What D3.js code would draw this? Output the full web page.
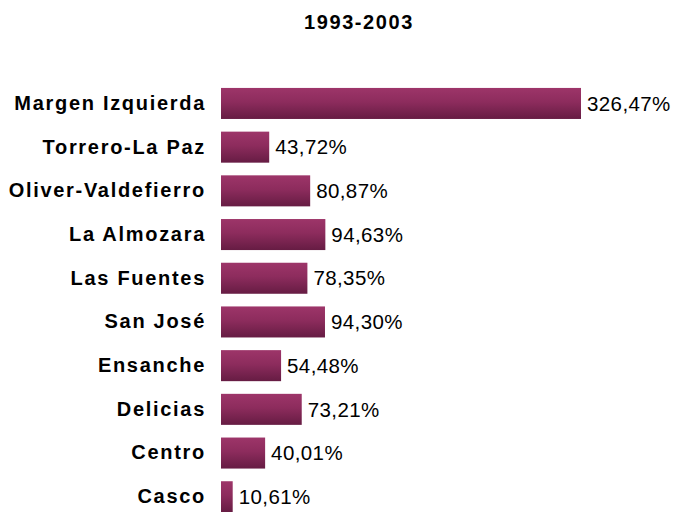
<!DOCTYPE html>
<html>
  <head>
    <meta charset="utf-8">
    <title>1993-2003</title>
    <script src="https://d3js.org/d3.v7.min.js"></script>
    <style>
      body { margin: 0; background: #fff; }
      text { font-family: "Liberation Sans", Arial, sans-serif; fill: #000; }
    </style>
  </head>
  <body>
    <div id="chart"></div>
    <script>
      // data
      var title = "1993-2003";
      var barrios = ["Margen Izquierda", "Torrero-La Paz", "Oliver-Valdefierro", "La Almozara",
        "Las Fuentes", "San José", "Ensanche", "Delicias", "Centro", "Casco"];
      var crecimiento = [326.47, 43.72, 80.87, 94.63, 78.35, 94.30, 54.48, 73.21, 40.01, 10.61];

      var width = 676, height = 512;
      var svg = d3.select("#chart")
        .append("svg")
          .attr("width", width)
          .attr("height", height);

      // gradient for bars
      var grad = svg.append("defs")
        .append("linearGradient")
          .attr("id", "barGrad")
          .attr("x1", 0).attr("y1", 0)
          .attr("x2", 0).attr("y2", 1);
      grad.append("stop").attr("offset", "0%").attr("stop-color", "#9d3569");
      grad.append("stop").attr("offset", "45%").attr("stop-color", "#8d2c5d");
      grad.append("stop").attr("offset", "100%").attr("stop-color", "#661c43");

      // scales
      var x = d3.scaleLinear()
        .domain([0, d3.max(crecimiento)])
        .range([221, 581]);
      var y = d3.scaleBand()
        .domain(barrios)
        .range([81.6, 518.6])
        .paddingInner(0.29)
        .paddingOuter(0.145);

      // title
      svg.append("text")
        .attr("x", 359)
        .attr("y", 29)
        .attr("text-anchor", "middle")
        .style("font-size", "20px")
        .style("font-weight", "bold")
        .style("letter-spacing", "1.6px")
        .text(title);

      // category axis
      var yAxis = svg.append("g")
        .attr("transform", "translate(206,0)")
        .call(d3.axisLeft(y).tickSize(0).tickPadding(0));
      yAxis.select(".domain").remove();
      yAxis.selectAll("text")
        .attr("font-family", null)
        .style("font-size", "20px")
        .style("font-weight", "bold")
        .style("letter-spacing", "1.7px");

      // bars
      var fmt = function(v) { return v.toFixed(2).replace(".", ",") + "%"; };
      svg.selectAll(".bar")
        .data(barrios)
        .enter().append("rect")
          .attr("class", "bar")
          .attr("x", x(0))
          .attr("y", function(d) { return y(d); })
          .attr("width", function(d, i) { return x(crecimiento[i]) - x(0); })
          .attr("height", y.bandwidth())
          .attr("fill", "url(#barGrad)");

      // value labels
      svg.selectAll(".val")
        .data(barrios)
        .enter().append("text")
          .attr("class", "val")
          .attr("x", function(d, i) { return x(crecimiento[i]) + 6; })
          .attr("y", function(d) { return y(d) + y.bandwidth() / 2; })
          .attr("dy", "0.35em")
          .style("font-size", "20.5px")
          .style("letter-spacing", "0.4px")
          .text(function(d, i) { return fmt(crecimiento[i]); });
    </script>
  </body>
</html>
